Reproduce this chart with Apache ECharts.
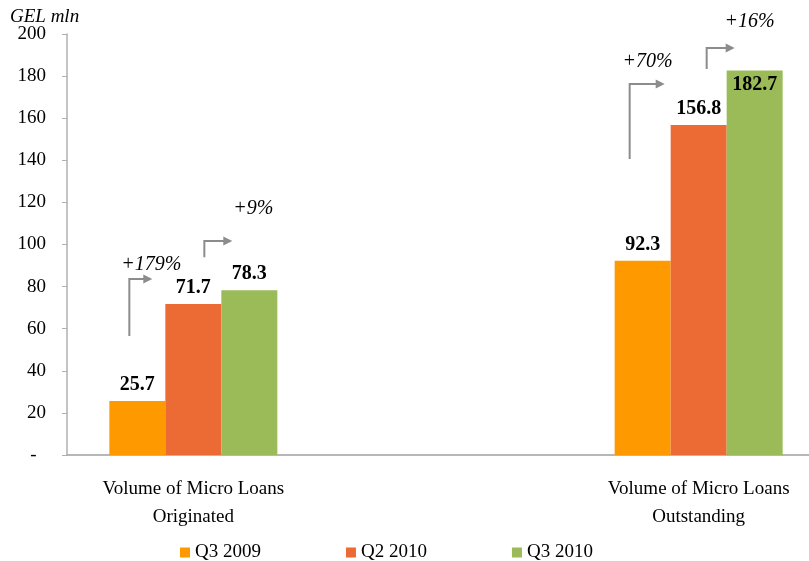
<!DOCTYPE html>
<html>
<head>
<meta charset="utf-8">
<script src="https://cdn.jsdelivr.net/npm/echarts@6/dist/echarts.min.js"></script>
<style>
  html, body { margin: 0; padding: 0; background: #fff; }
  #chart { width: 809px; height: 561px; }
</style>
</head>
<body>
<div id="chart"></div>
<script>
// Categories: the middle slot is an empty spacer between the two groups
const categories = ['Volume of Micro Loans\nOriginated', '', 'Volume of Micro Loans\nOutstanding'];
const seriesNames = ['Q3 2009', 'Q2 2010', 'Q3 2010'];
const q3_2009 = [25.7, '-', 92.3];
const q2_2010 = [71.7, '-', 156.8];
const q3_2010 = [78.3, '-', 182.7];
const yTicks = { min: 0, max: 200, interval: 20 };

// Growth annotations: category index, arrow x offsets (px from group centre),
// arrow start/end values, label offset and label value
const growthLabels = ['+179%', '+9%', '+70%', '+16%'];
const growthCat = [0, 0, 2, 2];
const arrowX = [-64, 11, -69, 8];
const arrowEndX = [-41, 39, -34, 36];
const arrowFrom = [56.5, 94, 140.6, 183.4];
const arrowTo = [83.6, 101.7, 176.2, 193.3];
const labelX = [-42, 60, -51, 51];
const labelY = [90.3, 116.9, 186.7, 206];

const colors = ['#FF9900', '#EC6A34', '#9BBB59'];
const serif = '"Liberation Serif", "Times New Roman", serif';

const chart = echarts.init(document.getElementById('chart'));

function barSeries(name, data, idx) {
  return {
    name: name,
    type: 'bar',
    data: data.map(function (v) {
      if (v === 182.7) {
        return { value: v, label: { position: 'insideTop', distance: 4 } };
      }
      return v;
    }),
    barWidth: 56,
    barGap: '0%',
    itemStyle: { color: colors[idx] },
    label: {
      show: true,
      position: 'top',
      distance: 6,
      fontFamily: serif,
      fontWeight: 'bold',
      fontSize: 20,
      color: '#000',
      formatter: function (p) { return p.value.toFixed(1); }
    }
  };
}

chart.setOption({
  animation: false,
  textStyle: { fontFamily: serif },
  title: {
    text: 'GEL mln',
    left: 5,
    top: 2,
    textStyle: { fontFamily: serif, fontStyle: 'italic', fontWeight: 'normal', fontSize: 19, color: '#000' }
  },
  grid: { left: 67, top: 34, width: 758, height: 421, outerBoundsMode: 'none' },
  legend: {
    data: seriesNames,
    left: 175,
    top: 538,
    itemWidth: 10,
    itemHeight: 10,
    itemGap: 85,
    icon: 'rect',
    textStyle: { fontFamily: serif, fontSize: 19, color: '#000' }
  },
  xAxis: {
    type: 'category',
    data: categories,
    axisLine: { lineStyle: { color: '#A0A0A0', width: 1.5 } },
    axisTick: { show: false },
    axisLabel: {
      interval: 0,
      margin: 20,
      lineHeight: 28,
      fontFamily: serif,
      fontSize: 19,
      color: '#000'
    }
  },
  yAxis: {
    type: 'value',
    min: yTicks.min,
    max: yTicks.max,
    interval: yTicks.interval,
    splitLine: { show: false },
    axisLine: { show: true, lineStyle: { color: '#B0B0B0', width: 1.5 } },
    axisTick: { show: true, length: 5, lineStyle: { color: '#B0B0B0' } },
    axisLabel: {
      margin: 21,
      fontFamily: serif,
      fontSize: 19,
      color: '#000',
      formatter: function (v) { return v === 0 ? '-  ' : String(v); }
    }
  },
  series: [
    barSeries(seriesNames[0], q3_2009, 0),
    barSeries(seriesNames[1], q2_2010, 1),
    barSeries(seriesNames[2], q3_2010, 2)
  ]
});

// Elbow arrows and growth percentages, placed through the axis scales
function drawAnnotations() {
  const elements = [];
  const grey = '#8C8C8C';
  for (let i = 0; i < growthLabels.length; i++) {
    const cx = chart.convertToPixel({ xAxisIndex: 0 }, growthCat[i]);
    const y0 = chart.convertToPixel({ yAxisIndex: 0 }, arrowFrom[i]);
    const y1 = chart.convertToPixel({ yAxisIndex: 0 }, arrowTo[i]);
    const xs = cx + arrowX[i];
    const xe = cx + arrowEndX[i];
    elements.push({
      type: 'polyline',
      shape: { points: [[xs, y0], [xs, y1], [xe - 8, y1]] },
      style: { stroke: grey, lineWidth: 2, fill: null }
    });
    elements.push({
      type: 'polygon',
      shape: { points: [[xe - 9, y1 - 4.5], [xe, y1], [xe - 9, y1 + 4.5]] },
      style: { fill: grey }
    });
    const ly = chart.convertToPixel({ yAxisIndex: 0 }, labelY[i]);
    elements.push({
      type: 'text',
      x: cx + labelX[i],
      y: ly,
      style: {
        text: growthLabels[i],
        fontFamily: serif,
        fontStyle: 'italic',
        fontSize: 20,
        fill: '#000',
        align: 'center',
        verticalAlign: 'middle'
      }
    });
  }
  chart.setOption({ graphic: elements });
}
drawAnnotations();
</script>
</body>
</html>
